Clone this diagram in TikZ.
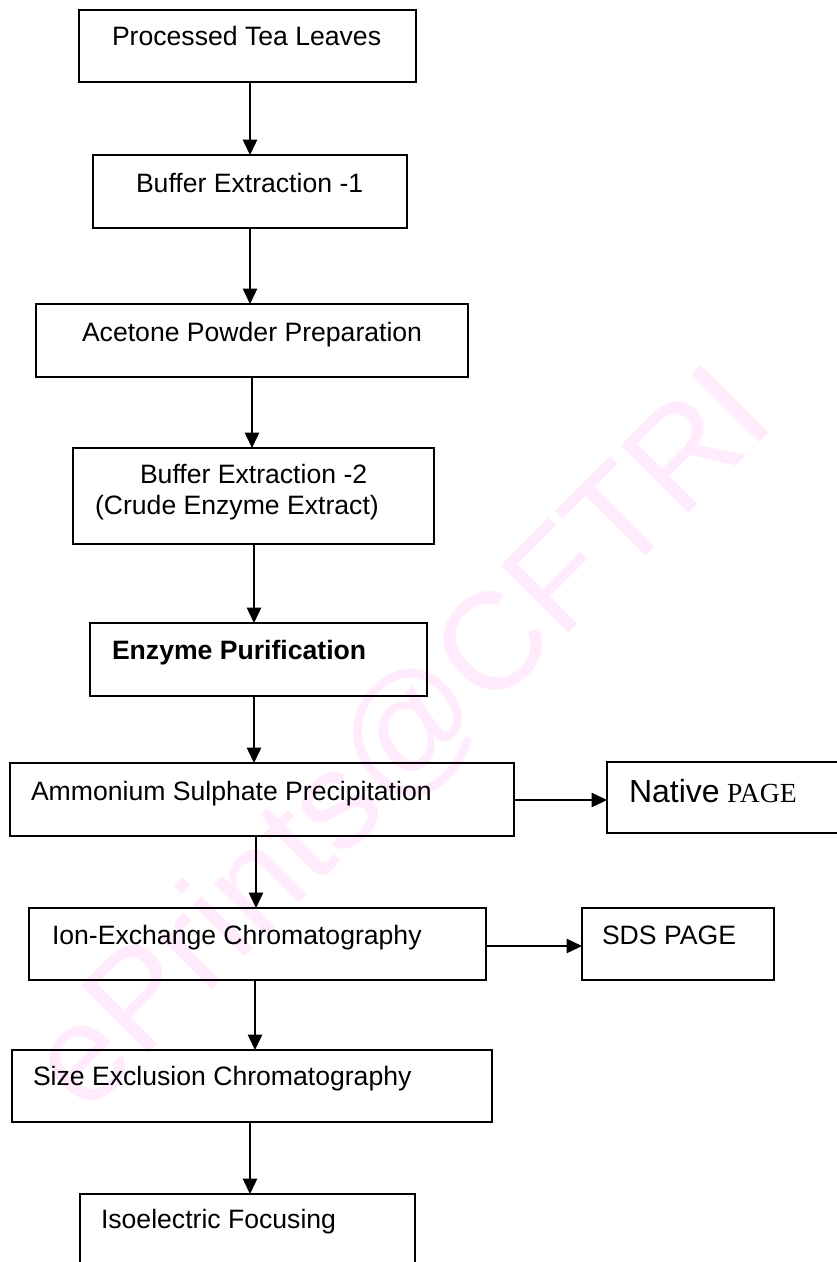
\documentclass[tikz,border=0pt]{standalone}
\usepackage{fontspec}
\setmainfont{Liberation Sans}
\newfontfamily\tnrfont{Liberation Serif}
\newfontfamily\wmfont{Liberation Sans}
\usetikzlibrary{arrows.meta}
\definecolor{wmpink}{RGB}{255,235,252}
\tikzset{
  box/.style={draw, line width=1.6pt, inner sep=0pt, outer sep=0pt},
  txt/.style={inner sep=0pt, outer sep=0pt, font=\fontsize{26.6}{31}\selectfont},
  arr/.style={line width=1.4pt, -{Triangle[length=15.5pt,width=14.5pt]}},
}
\begin{document}
\begin{tikzpicture}[x=1pt,y=-1pt]
\useasboundingbox (0,0) rectangle (837,1262);
% watermark
\node[rotate=45, anchor=base, text=wmpink, inner sep=0pt,
      font=\wmfont\fontsize{138.5}{138.5}\selectfont] (wm) at (432,770) {ePrints@CFTRI};
% x and y levels
\coordinate (xa) at (250,0);
\coordinate (xb) at (252,0);
\coordinate (xc) at (254,0);
\coordinate (xd) at (256,0);
\coordinate (xe) at (255,0);
\coordinate (ya) at (0,800);
\coordinate (yb) at (0,946);
% boxes
\node[box, minimum width=337pt, minimum height=72pt] (b1) at (247.5,46) {};
\node[box, minimum width=314pt, minimum height=73pt] (b2) at (250,191.5) {};
\node[box, minimum width=432pt, minimum height=73pt] (b3) at (252,340.5) {};
\node[box, minimum width=361pt, minimum height=96pt] (b4) at (253.5,496) {};
\node[box, minimum width=337pt, minimum height=73pt] (b5) at (258.5,659.5) {};
\node[box, minimum width=504pt, minimum height=73pt] (b6) at (262,799.5) {};
\node[box, minimum width=238pt, minimum height=71pt] (b7) at (726,797.5) {};
\node[box, minimum width=457pt, minimum height=72pt] (b8) at (257.5,944) {};
\node[box, minimum width=192pt, minimum height=72pt] (b9) at (678,944) {};
\node[box, minimum width=480pt, minimum height=72pt] (b10) at (252,1086) {};
\node[box, minimum width=335pt, minimum height=80pt] (b11) at (247.5,1234) {};
% texts
\node[txt, anchor=base west] (t1) at (112,45) {Processed Tea Leaves};
\node[txt, anchor=base west] (t2) at (136,192) {Buffer Extraction -1};
\node[txt, anchor=base west] (t3) at (82,341) {Acetone Powder Preparation};
\node[txt, anchor=base west] (t4a) at (140,483) {Buffer Extraction -2};
\node[txt, anchor=base west] (t4b) at (95,514) {(Crude Enzyme Extract)};
\node[txt, anchor=base west, font=\fontsize{26.6}{31}\selectfont\bfseries] (t5) at (112,659) {Enzyme Purification};
\node[txt, anchor=base west] (t6) at (31,800) {Ammonium Sulphate Precipitation};
\node[txt, anchor=base west] (t7) at (629,802) {{\fontsize{32}{36}\selectfont Native} {\tnrfont\fontsize{27.6}{32}\selectfont PAGE}};
\node[txt, anchor=base west] (t8) at (52,944) {Ion-Exchange Chromatography};
\node[txt, anchor=base west] (t9) at (602,944) {SDS PAGE};
\node[txt, anchor=base west] (t10) at (33,1085) {Size Exclusion Chromatography};
\node[txt, anchor=base west] (t11) at (101,1228) {Isoelectric Focusing};
% connectors
\draw[arr] (b1.south -| xa) -- (b2.north -| xa);
\draw[arr] (b2.south -| xa) -- (b3.north -| xa);
\draw[arr] (b3.south -| xb) -- (b4.north -| xb);
\draw[arr] (b4.south -| xc) -- (b5.north -| xc);
\draw[arr] (b5.south -| xc) -- (b6.north -| xc);
\draw[arr] (b6.east |- ya) -- (b7.west |- ya);
\draw[arr] (b6.south -| xd) -- (b8.north -| xd);
\draw[arr] (b8.east |- yb) -- (b9.west |- yb);
\draw[arr] (b8.south -| xe) -- (b10.north -| xe);
\draw[arr] (b10.south -| xa) -- (b11.north -| xa);
\end{tikzpicture}
\end{document}
